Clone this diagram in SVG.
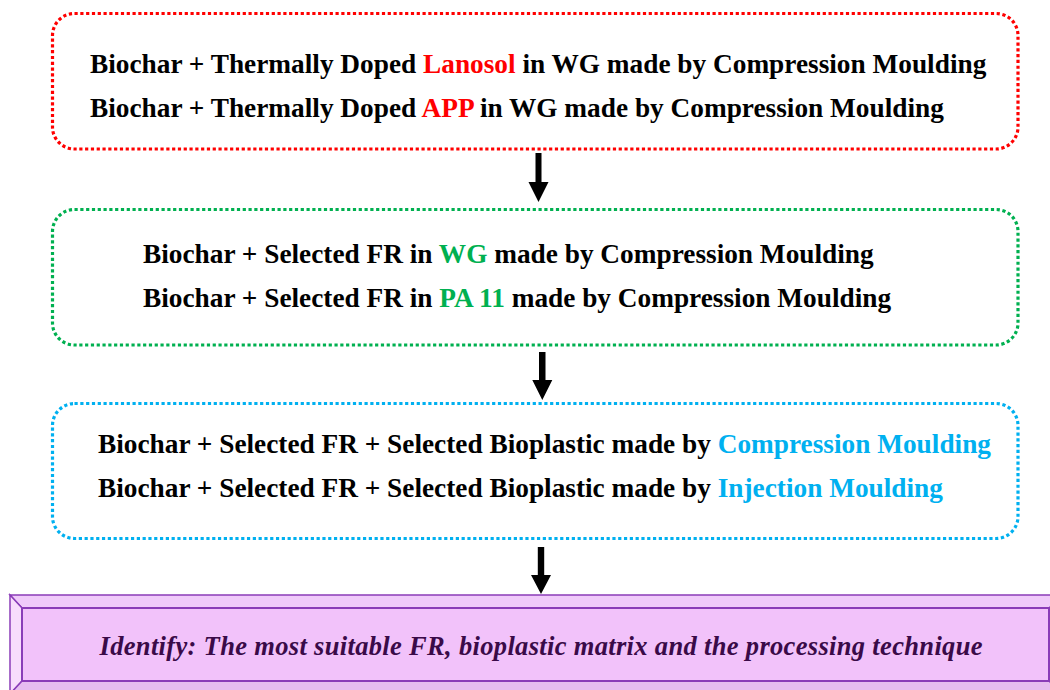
<svg xmlns="http://www.w3.org/2000/svg" width="1050" height="690" viewBox="0 0 1050 690">
<defs>
<style>
.box{fill:none;stroke-width:3.2;stroke-dasharray:3.2 2.6;}
.t{font-family:"Liberation Serif","Times New Roman",serif;font-weight:bold;font-size:27.3px;fill:#000;}
.r{fill:#ff0000;}
.g{fill:#00b050;}
.b{fill:#00b0f0;}
.arrow{fill:#000;}
.id{font-family:"Liberation Serif","Times New Roman",serif;font-weight:bold;font-style:italic;font-size:26.5px;fill:#3a0a48;}
</style>
</defs>
<rect width="1050" height="690" fill="#fff"/>
<g id="node-step1">
<rect class="box" x="52.5" y="13.5" width="965.5" height="135.5" rx="22" stroke="#ff0000"/>
<text class="t" x="90" y="73">Biochar + Thermally Doped <tspan class="r">Lanosol</tspan> in WG made by Compression Moulding</text>
<text class="t" x="90" y="117">Biochar + Thermally Doped <tspan class="r">APP</tspan> in WG made by Compression Moulding</text>
</g>
<g id="node-step2">
<rect class="box" x="52.5" y="209.5" width="965.5" height="135.5" rx="22" stroke="#00b050"/>
<text class="t" x="143" y="263">Biochar + Selected FR in <tspan class="g">WG</tspan> made by Compression Moulding</text>
<text class="t" x="143" y="307">Biochar + Selected FR in <tspan class="g">PA 11</tspan> made by Compression Moulding</text>
</g>
<g id="node-step3">
<rect class="box" x="52.5" y="403.5" width="965.5" height="135" rx="22" stroke="#00b0f0"/>
<text class="t" x="98" y="453">Biochar + Selected FR + Selected Bioplastic made by <tspan class="b">Compression Moulding</tspan></text>
<text class="t" x="98" y="497">Biochar + Selected FR + Selected Bioplastic made by <tspan class="b">Injection Moulding</tspan></text>
</g>
<g id="node-result">
<polygon points="10,595 1062,595 1049,608 22,608" fill="#f0cafa" stroke="#8a3cb8" stroke-width="1.5"/>
<polygon points="10,595 22,608 22,681 10,694" fill="#f8dcfc" stroke="#8a3cb8" stroke-width="1.5"/>
<polygon points="10,694 22,681 1049,681 1062,694" fill="#e6bcf0" stroke="#8a3cb8" stroke-width="1.5"/>
<rect x="22" y="608" width="1027" height="73" fill="#f2c2fa" stroke="#8a3cb8" stroke-width="2"/>
<text class="id" x="541" y="655" text-anchor="middle" textLength="883" lengthAdjust="spacing">Identify: The most suitable FR, bioplastic matrix and the processing technique</text>
</g>
<g id="connectors">
<polygon class="arrow" points="535.5,153 541.5,153 541.5,182 548.5,182 538.5,202 528.5,182 535.5,182"/>
<polygon class="arrow" points="539,352 545.5,352 545.5,380 552.3,380 542.3,400 532.3,380 539,380"/>
<polygon class="arrow" points="537.8,547 544.2,547 544.2,575 551,575 541,594 531,575 537.8,575"/>
</g>
</svg>
